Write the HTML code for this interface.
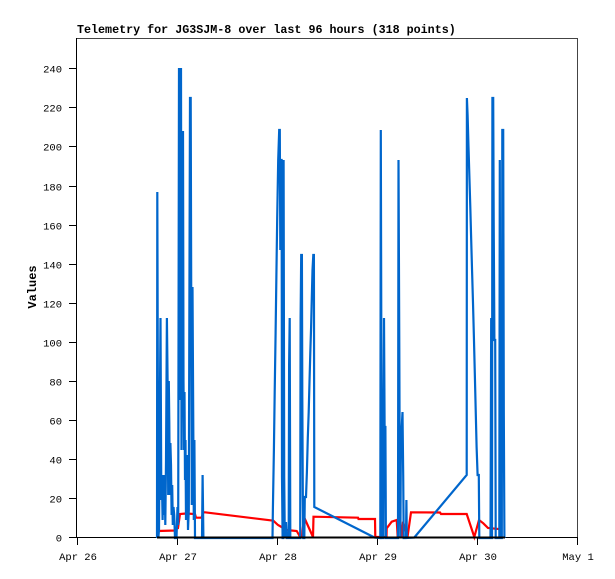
<!DOCTYPE html>
<html><head><meta charset="utf-8"><style>
html,body{margin:0;padding:0;background:#fff;}
svg{display:block;}
text{font-family:"Liberation Mono","DejaVu Sans Mono",monospace;}
</style></head><body>
<svg width="615" height="579" viewBox="0 0 615 579" xmlns="http://www.w3.org/2000/svg">
<rect x="0" y="0" width="615" height="579" fill="#fff"/>
<text x="77" y="33" font-size="11.7" font-weight="bold" fill="#000">Telemetry for JG3SJM-8 over last 96 hours (318 points)</text>
<text transform="translate(36,287) rotate(-90)" text-anchor="middle" font-size="12" font-weight="bold" fill="#000">Values</text>
<g shape-rendering="crispEdges">
<line x1="76" y1="38.5" x2="578" y2="38.5" stroke="#444" stroke-width="1"/>
<line x1="577.5" y1="38" x2="577.5" y2="538" stroke="#444" stroke-width="1"/>
<line x1="76.5" y1="38" x2="76.5" y2="538" stroke="#000" stroke-width="1"/>
<line x1="76" y1="537.5" x2="578" y2="537.5" stroke="#000" stroke-width="1"/>
<g stroke="#000" stroke-width="1">
<line x1="69" y1="537.5" x2="76" y2="537.5"/>
<line x1="69" y1="498.5" x2="76" y2="498.5"/>
<line x1="69" y1="459.5" x2="76" y2="459.5"/>
<line x1="69" y1="420.5" x2="76" y2="420.5"/>
<line x1="69" y1="381.5" x2="76" y2="381.5"/>
<line x1="69" y1="342.5" x2="76" y2="342.5"/>
<line x1="69" y1="303.5" x2="76" y2="303.5"/>
<line x1="69" y1="264.5" x2="76" y2="264.5"/>
<line x1="69" y1="225.5" x2="76" y2="225.5"/>
<line x1="69" y1="186.5" x2="76" y2="186.5"/>
<line x1="69" y1="146.5" x2="76" y2="146.5"/>
<line x1="69" y1="107.5" x2="76" y2="107.5"/>
<line x1="69" y1="68.5" x2="76" y2="68.5"/>
<line x1="77.5" y1="538" x2="77.5" y2="545"/>
<line x1="177.5" y1="538" x2="177.5" y2="545"/>
<line x1="277.5" y1="538" x2="277.5" y2="545"/>
<line x1="377.5" y1="538" x2="377.5" y2="545"/>
<line x1="477.5" y1="538" x2="477.5" y2="545"/>
<line x1="577.5" y1="538" x2="577.5" y2="545"/>
</g>
</g>
<g font-size="10.5" fill="#000" text-anchor="end">
<text x="62" y="541.5">0</text>
<text x="62" y="502.5">20</text>
<text x="62" y="463.5">40</text>
<text x="62" y="424.5">60</text>
<text x="62" y="385.5">80</text>
<text x="62" y="346.5">100</text>
<text x="62" y="307.5">120</text>
<text x="62" y="268.5">140</text>
<text x="62" y="229.5">160</text>
<text x="62" y="190.5">180</text>
<text x="62" y="150.5">200</text>
<text x="62" y="111.5">220</text>
<text x="62" y="72.5">240</text>
</g>
<g font-size="10.5" fill="#000" text-anchor="middle">
<text x="78" y="560">Apr 26</text>
<text x="178" y="560">Apr 27</text>
<text x="278" y="560">Apr 28</text>
<text x="378" y="560">Apr 29</text>
<text x="478" y="560">Apr 30</text>
<text x="578" y="560">May 1</text>
</g>
<polyline fill="none" stroke="#ff0000" stroke-width="2.2" points="158,531 175,530.5 176.5,528 178,528 180,514 186,513.5 195,514 196,517.7 201.5,517.7 203.5,512.3 205,512.3 273.3,520.7 278,525 286.7,530 296.7,531 300,536.7 302,536.7 304,517 313,537 313.5,516.7 358,517.7 358.5,519 375,519 375.3,537 386.5,537 386.7,528.3 391.7,521.7 396.7,520 397.7,537 401.5,537 403,521.7 407.5,537 411,512.3 440,512.5 441,514 466.7,514 474.3,537 479,520 483.3,523.3 488,528 501.7,529.3"/>
<polyline fill="none" stroke="#0066cc" stroke-width="2.2" stroke-linejoin="miter" stroke-miterlimit="2" points="157,538 157.3,192 158.3,538 159,530 160.5,318 161.3,500 162,485 162.6,520 163.2,475 164,515 164.6,475 165.3,525 166,462 166.9,318 167.6,381 168.2,495 168.8,381 169.3,423 169.9,495 170.4,443 171,465 171.6,515 172.2,485 172.8,525 173.5,507 174.2,515 175,538 176.5,538 177.5,507 178.2,525 179,68 179.5,400 180,68 180.5,300 181,68 181.5,450 182,131 182.5,350 183,131 183.5,381 184,450 184.5,392 185,480 185.5,440 186,520 186.8,455 187.4,473 188,530 188.8,510 189.4,300 190,98 190.7,98 191.2,287 191.8,505 192.5,287 193.2,412 193.8,520 194.4,440 195,538 202,538 202.6,475 203.4,538 272.5,538 272.9,508 273.9,450 274.7,392 275.6,333 276.4,275 277.2,218 278.2,160 279.2,130 279.8,130 280.3,250 280.9,160 281.6,160 282,477 282.6,538 283.2,538 283.6,160 284.2,477 284.8,538 286,522 286.8,538 288.7,538 289.1,365 289.7,318 290.3,538 300.2,538 300.6,318 301.2,255 301.9,255 302.3,397 302.8,495 303.3,538 304.3,538 304.8,497 306,497 306.9,472 307.8,438 308.7,412 309.5,382 310.3,353 311.1,327 311.8,298 312.5,270 313.3,255 313.9,255 314.3,507 374.5,537.5 380.3,538 380.8,130 381.3,333 381.8,427 382.4,538 383.4,538 384,318 384.6,427 385.4,427 385.9,538 398,538 398.5,160 399.3,348 399.8,490 400.4,538 400.8,458 401.7,428 402.5,412 403.2,475 403.7,538 406,538 406.4,500 406.8,538 414.3,537.5 466.7,475 466.9,98 467.6,115 468.5,147 469.4,177 470.3,207 471.2,240 472.1,272 473,303 473.9,337 474.8,373 475.7,410 476.6,447 477.6,475 478.8,475 479.3,538 490.5,538 491.2,318 491.7,538 492,538 492.4,98 493.2,98 493.7,223 494.4,340 495.2,340 495.7,538 499.3,538 499.8,160 500.4,538 501.8,538 502.3,130 503.2,130 503.8,412 504.4,538"/>
<line x1="157" y1="537.5" x2="505" y2="537.5" stroke="#000" stroke-width="2"/>
</svg>
</body></html>
